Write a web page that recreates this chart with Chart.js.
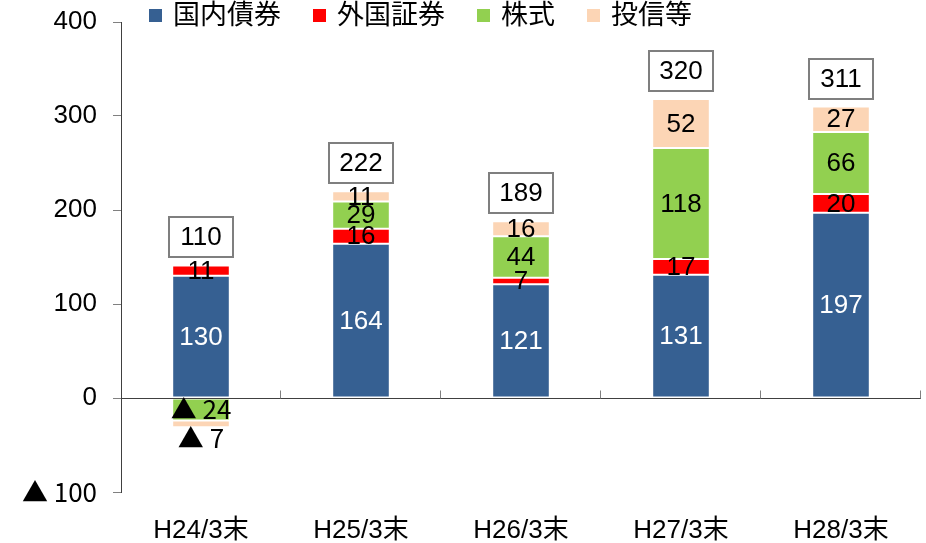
<!DOCTYPE html>
<html lang="ja">
<head>
<meta charset="utf-8">
<title>有価証券の増減</title>
<script src="https://cdn.jsdelivr.net/npm/chart.js@4.4.1/dist/chart.umd.min.js"></script>
<style>
  html, body { margin: 0; padding: 0; background: #fff; }
  #wrap { width: 926px; height: 543px; }
</style>
</head>
<body>
<div id="wrap"><canvas id="chart" width="926" height="543"></canvas></div>
<script>
/* ===== DATA ===== */
const categories = ['H24/3末', 'H25/3末', 'H26/3末', 'H27/3末', 'H28/3末'];
const seriesNames = ['国内債券', '外国証券', '株式', '投信等'];
const domesticBonds = [130, 164, 121, 131, 197];
const foreignSecurities = [11, 16, 7, 17, 20];
const stocks = [-24, 29, 44, 118, 66];
const investmentTrusts = [-7, 11, 16, 52, 27];
const totals = [110, 222, 189, 320, 311];
const yRange = { min: -100, max: 400, step: 100 };

const FONT = "'Liberation Sans', 'Noto Sans CJK JP', sans-serif";
// the source draws the minus triangle as a full-width glyph
const NEG_FONT = "'Noto Sans CJK JP', sans-serif";
const COLORS = ['#366092', '#ff0000', '#92d050', '#fcd5b5'];

// negative numbers are written with a triangle, like the source
const fmt = v => (v < 0 ? '▲ ' + (-v) : String(v));

/* ===== PLUGINS ===== */
const legendTop = {
  id: 'legendTop',
  afterDraw(chart) {
    const ctx = chart.ctx;
    ctx.save();
    ctx.font = '27px ' + FONT;
    ctx.textBaseline = 'middle';
    ctx.textAlign = 'left';
    let x = 149;
    const y = 16;
    chart.data.datasets.forEach(ds => {
      ctx.fillStyle = ds.backgroundColor;
      ctx.fillRect(x, y - 7, 13, 13);
      ctx.fillStyle = '#000';
      ctx.fillText(ds.label, x + 24, y + 1);
      x += 24 + ctx.measureText(ds.label).width + 32;
    });
    ctx.restore();
  }
};

const axisMarks = {
  id: 'axisMarks',
  afterDatasetsDraw(chart) {
    const ctx = chart.ctx;
    const xs = chart.scales.x;
    const y0 = Math.round(chart.scales.y.getPixelForValue(0)) + 0.5;
    ctx.save();
    ctx.strokeStyle = '#404040';
    ctx.lineWidth = 1;
    ctx.beginPath();
    ctx.moveTo(chart.chartArea.left, y0);
    ctx.lineTo(chart.chartArea.right, y0);
    ctx.stroke();
    ctx.strokeStyle = '#808080';
    for (let i = 1; i <= categories.length; i++) {
      const x = Math.round(xs.getPixelForValue(i - 0.5)) - 0.5;
      ctx.beginPath();
      ctx.moveTo(x, y0);
      ctx.lineTo(x, y0 - 8);
      ctx.stroke();
    }
    ctx.restore();
  }
};

const barLabels = {
  id: 'barLabels',
  afterDraw(chart) {
    const ctx = chart.ctx;
    const ys = chart.scales.y;
    ctx.save();
    ctx.textAlign = 'center';

    // values inside each segment
    chart.data.datasets.forEach((ds, di) => {
      chart.getDatasetMeta(di).data.forEach((bar, i) => {
        const v = ds.data[i];
        ctx.fillStyle = di === 0 ? '#fff' : '#000';
        ctx.font = '26px ' + (v < 0 ? NEG_FONT : FONT);
        if (v < 0 && Math.abs(bar.y - bar.base) < 12) {
          // too thin: hang the label under the segment
          ctx.textBaseline = 'top';
          ctx.fillText(fmt(v), bar.x, bar.y - 2);
        } else {
          ctx.textBaseline = 'middle';
          ctx.fillText(fmt(v), bar.x, (bar.y + bar.base) / 2 + (v < 0 ? 0 : 1));
        }
      });
    });

    // boxed totals above the stacks
    ctx.font = '26px ' + FONT;
    ctx.textBaseline = 'middle';
    const first = chart.getDatasetMeta(0).data;
    categories.forEach((c, i) => {
      let pos = 0;
      chart.data.datasets.forEach(ds => { if (ds.data[i] > 0) pos += ds.data[i]; });
      const top = ys.getPixelForValue(pos);
      const w = 64, h = 40;
      const bx = Math.round(first[i].x - w / 2);
      const by = Math.round(top - 8 - h);
      ctx.fillStyle = '#fff';
      ctx.fillRect(bx, by, w, h);
      ctx.strokeStyle = '#7f7f7f';
      ctx.lineWidth = 2;
      ctx.strokeRect(bx, by, w, h);
      ctx.fillStyle = '#000';
      ctx.fillText(String(totals[i]), bx + w / 2, by + h / 2 + 1);
    });
    ctx.restore();
  }
};

/* ===== CHART ===== */
const seriesValues = [domesticBonds, foreignSecurities, stocks, investmentTrusts];

new Chart(document.getElementById('chart'), {
  type: 'bar',
  data: {
    labels: categories,
    datasets: seriesNames.map((name, i) => ({
      label: name,
      data: seriesValues[i],
      backgroundColor: COLORS[i],
      borderColor: '#fff',
      borderWidth: 1,
      borderSkipped: false,
      categoryPercentage: 1,
      barPercentage: 0.36
    }))
  },
  options: {
    responsive: false,
    animation: false,
    layout: { padding: { top: 22, right: 5, left: 0, bottom: 0 } },
    plugins: {
      legend: { display: false },
      tooltip: { enabled: false }
    },
    scales: {
      x: {
        stacked: true,
        grid: { display: false },
        border: { display: false },
        ticks: { color: '#000', font: { size: 26, family: FONT }, padding: 15 },
        afterFit: s => { s.height = 51; }
      },
      y: {
        stacked: true,
        min: yRange.min,
        max: yRange.max,
        grid: { drawOnChartArea: false, tickLength: 8, tickColor: '#808080' },
        border: { color: '#404040' },
        ticks: {
          stepSize: yRange.step,
          color: '#000',
          padding: 16,
          font: c => ({ size: 26, family: c.tick && c.tick.value < 0 ? NEG_FONT : FONT }),
          callback: v => fmt(v)
        },
        afterFit: s => {
          s.width = 121;
          // the labels may stick out; the plot keeps its full height
          s.paddingTop = 0;
          s.paddingBottom = 0;
        }
      }
    }
  },
  plugins: [axisMarks, barLabels, legendTop]
});
</script>
</body>
</html>
